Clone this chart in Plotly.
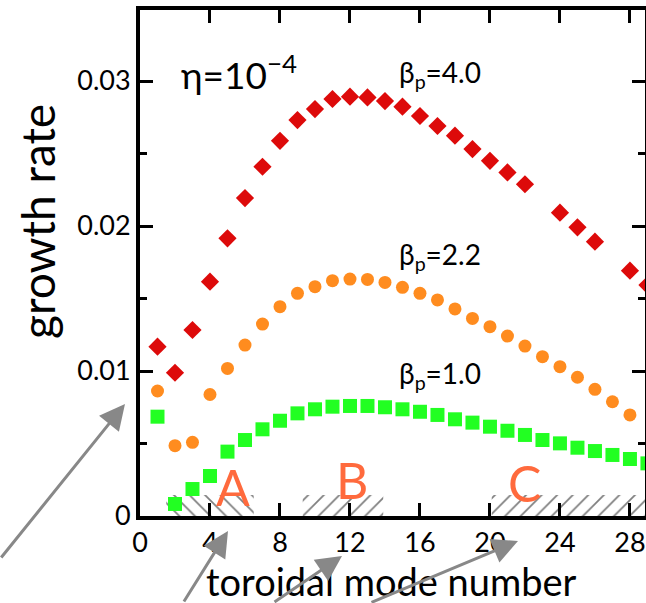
import plotly.graph_objects as go

# ---------------- data ----------------
mode_red = [1, 2, 3, 4, 5, 6, 7, 8, 9, 10, 11, 12, 13, 14, 15, 16, 17, 18, 19, 20, 21, 22, 24, 25, 26, 28, 29]
rate_red = [0.01168, 0.00988, 0.01283, 0.01616, 0.01915, 0.02193, 0.02409, 0.02588, 0.02731, 0.02807,
            0.02876, 0.02892, 0.02887, 0.02862, 0.02823, 0.02759, 0.02690, 0.02623, 0.02531, 0.02450,
            0.02370, 0.02288, 0.02092, 0.01991, 0.01892, 0.01692, 0.01593]

mode_orange = list(range(1, 29))
rate_orange = [0.00862, 0.00485, 0.00508, 0.00838, 0.01018, 0.01179, 0.01324, 0.01444, 0.01536, 0.01582,
               0.01623, 0.01634, 0.01632, 0.01611, 0.01577, 0.01536, 0.01490, 0.01428, 0.01363, 0.01306,
               0.01241, 0.01172, 0.01099, 0.01030, 0.00957, 0.00874, 0.00788, 0.00697]

mode_green = list(range(1, 30))
rate_green = [0.00685, 0.00083, 0.00186, 0.00276, 0.00444, 0.00524, 0.00598, 0.00657, 0.00708, 0.00736,
              0.00754, 0.00759, 0.00759, 0.00750, 0.00736, 0.00719, 0.00697, 0.00667, 0.00644, 0.00616,
              0.00588, 0.00559, 0.00524, 0.00501, 0.00471, 0.00448, 0.00421, 0.00393, 0.00363]

region_names = ["A", "B", "C"]
region_start = [1.5, 9.3, 20.1]
region_end = [6.5, 13.9, 29.5]
region_top = 0.00145
region_hatch = ["\\", "/", "/"]
region_label_x = [5.3, 12.1, 22.0]
region_label_y = [0.0020, 0.0025, 0.0023]

series_labels = ["β<sub>p</sub>=4.0", "β<sub>p</sub>=2.2", "β<sub>p</sub>=1.0"]
series_label_x = [14.7, 14.7, 14.7]
series_label_y = [0.0305, 0.0179, 0.0097]

x_range = [0, 28.86]
y_range = [0, 0.0349]
x_ticks = [0, 4, 8, 12, 16, 20, 24, 28]
y_ticks = [0, 0.01, 0.02, 0.03]
y_ticktext = ["0", "0.01", "0.02", "0.03"]
x_title = "toroidal mode number"
y_title = "growth rate"

# ---------------- figure ----------------
W, H = 646, 603
ML, MR, MT, MB = 140, 1, 10, 87
FONT = "Lato, DejaVu Sans, sans-serif"
pw, ph = W - ML - MR, H - MT - MB


def px_to_paper(px, py):
    return (px - ML) / pw, (H - MB - py) / ph


fig = go.Figure()

# hatched regions
for name, x0, x1, hatch in zip(region_names, region_start, region_end, region_hatch):
    fig.add_trace(go.Scatter(
        x=[x0, x1, x1, x0, x0], y=[0, 0, region_top, region_top, 0],
        mode="lines", fill="toself", line=dict(width=0, color="rgba(0,0,0,0)"),
        fillcolor="rgba(0,0,0,0)",
        fillpattern=dict(shape=hatch, fgcolor="black", bgcolor="rgba(0,0,0,0)", size=11, solidity=0.16),
        hoverinfo="skip", showlegend=False))

fig.add_trace(go.Scatter(x=mode_red, y=rate_red, mode="markers",
                         marker=dict(symbol="diamond", size=14, color="#dd0a0a"), showlegend=False))
fig.add_trace(go.Scatter(x=mode_orange, y=rate_orange, mode="markers",
                         marker=dict(symbol="circle", size=13, color="#ff8c1f"), showlegend=False))
fig.add_trace(go.Scatter(x=mode_green, y=rate_green, mode="markers",
                         marker=dict(symbol="square", size=14, color="#22ff22"), showlegend=False))

annotations = []
annotations.append(dict(x=2.2, y=0.0306, xref="x", yref="y", xanchor="left", yanchor="middle",
                        text="η=10<sup>−4</sup>", showarrow=False,
                        font=dict(family=FONT, size=37, color="black")))
for t, lx, ly in zip(series_labels, series_label_x, series_label_y):
    annotations.append(dict(x=lx, y=ly, xref="x", yref="y", xanchor="left", yanchor="middle",
                            text=t, showarrow=False, font=dict(family=FONT, size=28, color="black")))
for name, lx, ly in zip(region_names, region_label_x, region_label_y):
    annotations.append(dict(x=lx, y=ly, xref="x", yref="y", xanchor="center", yanchor="middle",
                            text=name, showarrow=False, font=dict(family=FONT, size=50, color="#ff6a3d")))

# axis titles
tx, ty = px_to_paper(391, 581)
annotations.append(dict(x=tx, y=ty, xref="paper", yref="paper", xanchor="center", yanchor="middle",
                        text=x_title, showarrow=False, font=dict(family=FONT, size=38, color="black")))
tx, ty = px_to_paper(37, 222)
annotations.append(dict(x=tx, y=ty, xref="paper", yref="paper", xanchor="center", yanchor="middle",
                        text=y_title, textangle=-90, showarrow=False,
                        font=dict(family=FONT, size=46, color="black")))

# gray arrows (tip pixel, tail pixel) in page coordinates
arrow_tips = [(125, 404), (228, 531), (342, 556), (518, 541)]
arrow_tails = [(-5, 559), (183, 603), (273, 603), (370, 603)]
for (tx, ty), (sx, sy) in zip(arrow_tips, arrow_tails):
    px, py = px_to_paper(tx, ty)
    annotations.append(dict(x=px, y=py, xref="paper", yref="paper",
                            ax=sx - tx, ay=sy - ty, axref="pixel", ayref="pixel",
                            text="", showarrow=True, arrowhead=2, arrowsize=1.7, arrowwidth=3,
                            arrowcolor="#888888", standoff=0))

fig.update_layout(
    width=W, height=H, margin=dict(l=ML, r=MR, t=MT, b=MB, autoexpand=False),
    paper_bgcolor="white", plot_bgcolor="white",
    font=dict(family=FONT, color="black"),
    annotations=annotations,
    xaxis=dict(range=x_range, tickvals=x_ticks, ticks="inside", ticklen=13, tickwidth=3,
               tickcolor="black", showline=True, linewidth=4, linecolor="black", mirror="allticks",
               showgrid=False, zeroline=False, tickfont=dict(size=27), ticklabeloverflow="allow"),
    yaxis=dict(range=y_range, tickvals=y_ticks, ticktext=y_ticktext, ticks="inside", ticklen=13,
               tickwidth=3, tickcolor="black", showline=True, linewidth=4, linecolor="black",
               mirror="allticks", showgrid=False, zeroline=False, tickfont=dict(size=27),
               minor=dict(dtick=0.005, tick0=0, ticks="inside", ticklen=7, tickwidth=3,
                          tickcolor="black", showgrid=False)),
)

fig.write_html("out.html")
